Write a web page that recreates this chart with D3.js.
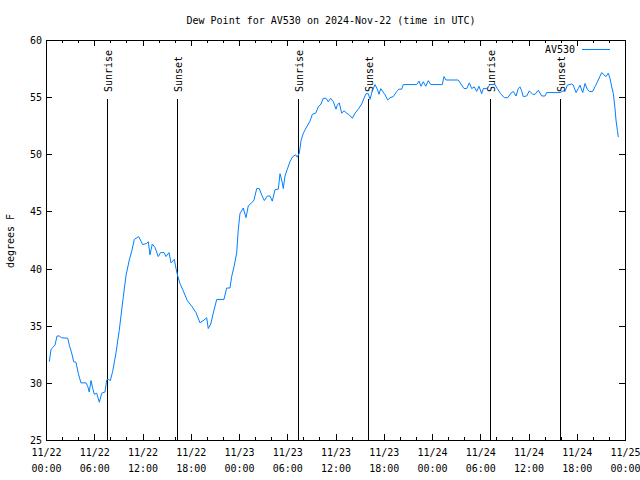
<!DOCTYPE html>
<html>
<head>
<meta charset="utf-8">
<script src="https://cdn.jsdelivr.net/npm/d3@7"></script>
<style>
  body { margin: 0; background: #fff; }
  svg { display: block; }
  text { font-family: "DejaVu Sans Mono", monospace; font-size: 10px; fill: #000; }
</style>
</head>
<body>
<svg id="chart" width="640" height="480"></svg>
<script>
// ---- DATA ----
const chartTitle = "Dew Point for AV530 on 2024-Nov-22 (time in UTC)";
const yLabel = "degrees F";
const seriesName = "AV530";
// hours after 2024-11-22 00:00 UTC
const hours = [0.41,0.62,0.83,1.12,1.37,1.65,1.95,2.70,2.90,3.20,3.44,3.73,4.02,4.35,4.97,5.19,5.38,5.60,5.81,6.01,6.30,6.63,6.93,7.34,7.55,7.75,8.00,8.29,8.70,9.11,9.61,9.95,10.36,10.69,10.98,11.53,12.02,12.52,12.72,12.93,13.22,13.55,13.96,14.26,14.67,14.92,15.30,15.54,15.95,16.17,16.38,16.66,17.07,17.57,18.12,18.65,19.15,19.65,19.98,20.18,20.48,20.80,21.23,22.13,22.47,22.88,23.09,23.38,23.71,23.91,24.12,24.53,24.87,25.16,25.58,25.87,26.20,26.52,26.82,27.15,27.52,27.86,28.14,28.48,28.89,29.10,29.31,29.51,29.72,30.01,30.34,30.68,31.05,31.25,31.50,31.71,32.00,32.42,32.83,33.12,33.54,33.86,34.20,34.48,34.82,35.10,35.40,35.73,36.06,36.22,36.47,36.77,37.06,37.39,37.72,38.09,38.43,38.84,39.26,39.46,39.79,40.08,40.29,40.58,40.91,41.20,41.41,41.62,41.87,42.16,42.49,42.78,43.19,43.61,43.90,44.23,44.43,46.10,46.38,46.63,46.92,47.22,47.54,47.84,49.28,49.49,49.74,51.27,51.69,51.98,52.32,52.64,52.94,53.26,53.56,53.84,54.18,54.38,54.80,55.21,55.83,56.12,56.54,56.99,57.41,57.82,58.11,58.45,58.73,58.94,59.15,59.35,59.78,60.10,60.52,60.81,61.22,61.64,62.05,62.26,63.92,64.33,64.54,64.83,65.37,65.57,65.91,66.19,66.40,66.74,67.03,67.31,67.56,67.98,68.27,68.68,69.10,69.39,69.64,69.92,70.13,70.35,70.55,70.76,70.88,71.05,71.17];
const dewPoint = [31.85,32.9,33.1,33.3,34.1,34.1,33.95,33.9,33.3,32.6,31.85,31.8,30.8,30.0,30.0,29.7,29.2,30.2,29.5,29.0,29.1,28.3,29.1,29.2,30.25,30.3,30.2,31.0,32.6,34.6,37.5,39.4,40.75,41.6,42.55,42.8,42.1,42.2,42.35,41.2,42.15,41.85,41.05,41.4,41.4,41.05,41.4,40.5,40.8,40.0,39.35,38.7,38.05,37.2,36.7,36.15,35.25,35.5,35.7,34.75,35.15,36.1,37.3,37.3,38.3,38.3,39.3,40.15,41.35,43.4,44.8,45.3,44.45,45.5,45.75,46.0,47.0,47.0,46.45,45.95,46.35,46.35,45.9,46.9,46.95,48.3,47.75,47.0,48.1,48.7,49.35,49.8,49.95,49.75,50.1,51.2,51.85,52.4,52.9,53.5,53.6,54.15,54.4,54.9,54.9,54.6,54.9,54.6,53.95,54.3,54.5,53.6,53.8,53.6,53.45,53.15,53.6,53.95,54.4,54.75,55.3,55.3,54.8,55.55,56.1,55.7,55.25,55.75,55.5,55.2,54.75,54.95,55.05,55.5,55.7,55.7,56.1,56.1,56.4,55.95,56.35,55.95,56.45,56.1,56.1,56.8,56.5,56.5,56.05,55.75,55.75,56.25,55.75,55.9,55.5,55.95,55.3,55.75,55.75,56.1,56.1,55.75,55.3,54.95,54.95,55.35,55.5,55.1,55.75,55.9,55.55,55.05,55.1,55.55,55.25,55.25,55.6,55.1,55.1,55.4,55.4,55.55,55.5,56.05,56.15,56.05,55.4,55.75,56.05,55.4,56.2,55.7,55.5,55.5,55.9,56.5,57.15,56.95,56.8,57.1,56.65,55.9,55.3,54.0,53.0,52.1,51.5];
// sun events, hours after start
const sunHours = [7.62, 16.33, 31.37, 40.08, 55.25, 63.96];
const sunLabels = ["Sunrise", "Sunset", "Sunrise", "Sunset", "Sunrise", "Sunset"];
const yTicks = [25, 30, 35, 40, 45, 50, 55, 60];
const xTickHours = [0, 6, 12, 18, 24, 30, 36, 42, 48, 54, 60, 66, 72];
const xMinorHours = d3.range(0, 73, 2);

// ---- CHART ----
const start = Date.UTC(2024, 10, 22, 0, 0);
const toDate = h => new Date(start + h * 3600000);
const data = hours.map((h, i) => ({ t: toDate(h), v: dewPoint[i] }));

const svg = d3.select("#chart");
const L = 46, R = 625, T = 40, B = 440;
const x = d3.scaleUtc().domain([toDate(0), toDate(72)]).range([L, R]);
const y = d3.scaleLinear().domain([25, 60]).range([B, T]);

const fmtDay = d3.utcFormat("%m/%d");
const fmtTime = d3.utcFormat("%H:%M");

const g = svg.append("g").attr("shape-rendering", "crispEdges");

// minor ticks (top & bottom)
g.append("g").attr("transform", `translate(0,${B})`)
  .call(d3.axisBottom(x).tickValues(xMinorHours.map(toDate)).tickSize(-3).tickFormat(""))
  .call(s => s.select(".domain").remove());
g.append("g").attr("transform", `translate(0,${T})`)
  .call(d3.axisTop(x).tickValues(xMinorHours.map(toDate)).tickSize(-3).tickFormat(""))
  .call(s => s.select(".domain").remove());

// major bottom axis
const xb = g.append("g").attr("transform", `translate(0,${B})`)
  .call(d3.axisBottom(x).tickValues(xTickHours.map(toDate)).tickSize(-6).tickPadding(7).tickFormat(""));
xb.select(".domain").remove();
xb.selectAll(".tick").each(function(d) {
  const t = d3.select(this).append("text").attr("text-anchor", "middle");
  t.append("tspan").attr("x", 0).attr("y", 16).text(fmtDay(d));
  t.append("tspan").attr("x", 0).attr("y", 32).text(fmtTime(d));
});
g.append("g").attr("transform", `translate(0,${T})`)
  .call(d3.axisTop(x).tickValues(xTickHours.map(toDate)).tickSize(-6).tickFormat(""))
  .call(s => s.select(".domain").remove());

// y axes
const yl = g.append("g").attr("transform", `translate(${L},0)`)
  .call(d3.axisLeft(y).tickValues(yTicks).tickSize(-6).tickPadding(4).tickFormat(d3.format("d")));
yl.select(".domain").remove();
yl.selectAll("text").attr("x", -4).attr("dy", "0.35em");
g.append("g").attr("transform", `translate(${R},0)`)
  .call(d3.axisRight(y).tickValues(yTicks).tickSize(-6).tickFormat(""))
  .call(s => s.select(".domain").remove());

g.selectAll(".tick line").attr("stroke", "#000");
svg.selectAll(".tick text").style("font-family", "DejaVu Sans Mono").style("font-size", "10px").attr("fill", "#000");

// frame
g.append("rect").attr("x", L).attr("y", T).attr("width", R - L).attr("height", B - T)
  .attr("fill", "none").attr("stroke", "#000");

// sun lines
const sunG = svg.append("g");
sunHours.forEach((h, i) => {
  const sx = Math.round(x(toDate(h))) + 0.5;
  sunG.append("line").attr("x1", sx).attr("x2", sx).attr("y1", y(54.85)).attr("y2", B)
    .attr("stroke", "#000").attr("shape-rendering", "crispEdges");
  sunG.append("text").attr("transform", `translate(${sx + 4},92) rotate(-90)`)
    .attr("text-anchor", "start").text(sunLabels[i]);
});

// data line
const line = d3.line().x(d => x(d.t)).y(d => y(d.v));
svg.append("path").datum(data).attr("d", line)
  .attr("fill", "none").attr("stroke", "#0080ff").attr("stroke-width", 1);

// legend
svg.append("text").attr("x", 575).attr("y", 53).attr("text-anchor", "end").text(seriesName);
svg.append("line").attr("x1", 582).attr("x2", 610).attr("y1", 49.5).attr("y2", 49.5)
  .attr("stroke", "#0080ff").attr("shape-rendering", "crispEdges");

// title
svg.append("text").attr("x", 331).attr("y", 24).attr("text-anchor", "middle").text(chartTitle);

// y label
svg.append("text").attr("transform", "translate(14,241) rotate(-90)")
  .attr("text-anchor", "middle").text(yLabel);
</script>
</body>
</html>
